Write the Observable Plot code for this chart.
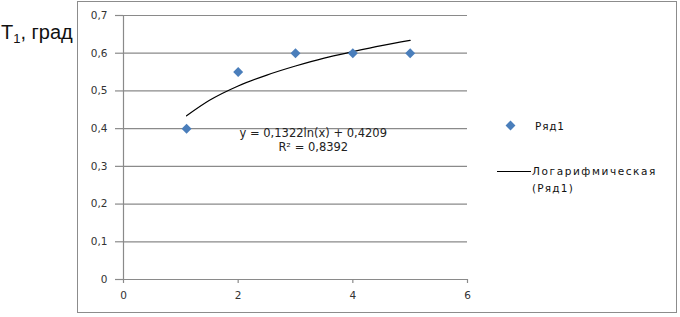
<!DOCTYPE html>
<html><head><meta charset="utf-8">
<script src="https://cdn.jsdelivr.net/npm/d3@7"></script>
<script src="https://cdn.jsdelivr.net/npm/@observablehq/plot@0.6"></script>
<style>
body{margin:0;background:#fff;}
#wrap{position:relative;width:680px;height:317px;overflow:hidden;font-family:"DejaVu Sans",sans-serif;}
#box{position:absolute;left:77px;top:1px;width:598px;height:310px;border:1px solid #8c8c8c;}
#chart{position:absolute;left:0;top:0;}
#title{position:absolute;left:1px;top:21px;font:20px "Liberation Sans",Arial,sans-serif;color:#111;}
#title .sub{font-size:13px;position:relative;top:4px;}
.lg{position:absolute;font-size:10.5px;color:#111;white-space:nowrap;}
#lgDot{position:absolute;left:507px;top:122px;width:7px;height:7px;background:#4a7ebb;transform:rotate(45deg);}
#lgLine{position:absolute;left:497px;top:171px;width:34px;height:0;border-top:1.2px solid #000;}
#chart svg text.eq{letter-spacing:0.5px;}
</style>
</head><body>
<div id="wrap">
  <div id="box"></div>
  <div id="chart"></div>
  <div id="title">Т<span class="sub">1</span>, град</div>
  <div id="lgDot"></div>
  <div class="lg" style="left:535px;top:120px;letter-spacing:0.8px;">Ряд1</div>
  <div id="lgLine"></div>
  <div class="lg" style="left:532px;top:165px;letter-spacing:1.6px;">Логарифмическая</div>
  <div class="lg" style="left:532px;top:182px;letter-spacing:1.2px;">(Ряд1)</div>
</div>
<script>
const xs = [1.1, 2, 3, 4, 5];
const ys = [0.40, 0.55, 0.60, 0.60, 0.60];
const trendX = [1.1, 1.5, 2, 2.5, 3, 3.5, 4, 4.5, 5];
const trendY = [0.434, 0.475, 0.513, 0.542, 0.566, 0.587, 0.604, 0.620, 0.634];
const xTicks = [0, 2, 4, 6];
const yTicks = [0, 0.1, 0.2, 0.3, 0.4, 0.5, 0.6, 0.7];
const eqText = ["y = 0,1322ln(x) + 0,4209", "R² = 0,8392"];
const eqPos = {x: 3.31, y: 0.372};

const pts = xs.map((x, i) => ({x, y: ys[i]}));
const trend = trendX.map((x, i) => ({x, y: trendY[i]}));
const fmt = d => d === 0 ? "0" : d3.format(".1f")(d).replace(".", ",");

const plot = Plot.plot({
  width: 680, height: 317,
  marginLeft: 123, marginRight: 213, marginTop: 15, marginBottom: 38,
  style: {fontFamily: "DejaVu Sans, sans-serif", fontSize: "10.5px", color: "#333", background: "transparent"},
  x: {domain: [0, 6], ticks: xTicks, label: null},
  y: {domain: [0, 0.7], ticks: yTicks, label: null},
  marks: [
    Plot.ruleY(yTicks, {stroke: "#8a8a8a", strokeWidth: 1.2}),
    Plot.axisY({ticks: yTicks, tickFormat: fmt, tickSize: 8, tickPadding: 8, stroke: "#8a8a8a", strokeWidth: 1.2, label: null}),
    Plot.ruleX([0], {stroke: "#8a8a8a", strokeWidth: 1.2}),
    Plot.axisX({ticks: xTicks, tickFormat: d => String(d), tickSize: 4, tickPadding: 8, stroke: "#8a8a8a", strokeWidth: 1.2, label: null}),
    Plot.line(trend, {x: "x", y: "y", curve: "monotone-x", stroke: "#000", strokeWidth: 1.2}),
    Plot.dot(pts, {x: "x", y: "y", symbol: "diamond2", r: 4.5, fill: "#4a7ebb", stroke: "none"}),
    Plot.text([eqText.join("\n")], {x: eqPos.x, y: eqPos.y, lineHeight: 1.3, fill: "#222", fontSize: 11.5, className: "eq"})
  ]
});
document.getElementById("chart").appendChild(plot);
</script>
</body></html>
